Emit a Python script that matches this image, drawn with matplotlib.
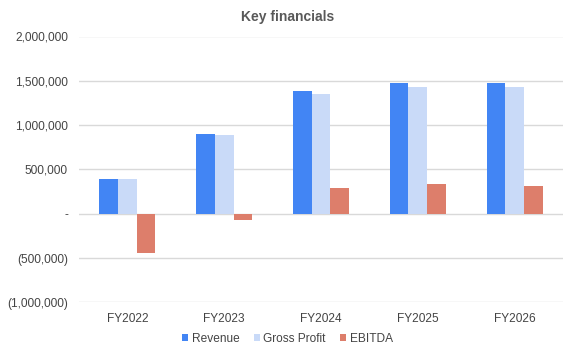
import matplotlib
matplotlib.use("Agg")
import matplotlib.pyplot as plt
import numpy as np
from matplotlib.ticker import FuncFormatter

categories = ["FY2022", "FY2023", "FY2024", "FY2025", "FY2026"]
revenue = [390000, 901000, 1390000, 1470000, 1470000]
gross_profit = [388000, 886000, 1356000, 1435000, 1435000]
ebitda = [-440000, -76000, 288000, 333000, 310000]
series_names = ["Revenue", "Gross Profit", "EBITDA"]
colors = ["#4285F4", "#C9DAF8", "#DD7E6B"]
y_ticks = [-1000000, -500000, 0, 500000, 1000000, 1500000, 2000000]

plt.rcParams['font.family'] = ['Liberation Sans', 'DejaVu Sans']

fig = plt.figure(figsize=(5.75, 3.55), dpi=100)
ax = fig.add_axes([79/575, 1-302.3/355, (563-79)/575, (302.3-36.5)/355])

x = np.arange(len(categories))
w = 0.193
for i, (vals, name, c) in enumerate(zip([revenue, gross_profit, ebitda], series_names, colors)):
    ax.bar(x + (i-1)*w, vals, width=w, color=c, label=name, zorder=3)

ax.set_xlim(-0.5, len(categories)-0.5)
ax.set_ylim(-1000000, 2000000)
ax.set_yticks(y_ticks)

def fmt(v, pos):
    if abs(v) < 0.5:
        return "-"
    if v < 0:
        return "({:,.0f})".format(-v)
    return "{:,.0f}".format(v)

ax.yaxis.set_major_formatter(FuncFormatter(fmt))
ax.set_xticks(x)
ax.set_xticklabels(categories)
ax.grid(axis='y', color='#d9d9d9', linewidth=1, zorder=0)
for s in ax.spines.values():
    s.set_visible(False)
ax.tick_params(axis='both', length=0, labelsize=8.6, colors='#444444')
ax.tick_params(axis='y', pad=8)
ax.tick_params(axis='x', pad=7.5)

fig.text(0.5, 1-17.5/355, "Key financials", ha='center', va='center',
         fontsize=10, fontweight='bold', color='#595959')

fig.legend(loc='center', bbox_to_anchor=(0.5, 1-339/355), ncol=3, frameon=False,
           fontsize=8.6, handlelength=0.5, handleheight=0.5, handletextpad=0.3,
           columnspacing=1.2, labelcolor='#444444')

fig.savefig("out.png", dpi=100)
